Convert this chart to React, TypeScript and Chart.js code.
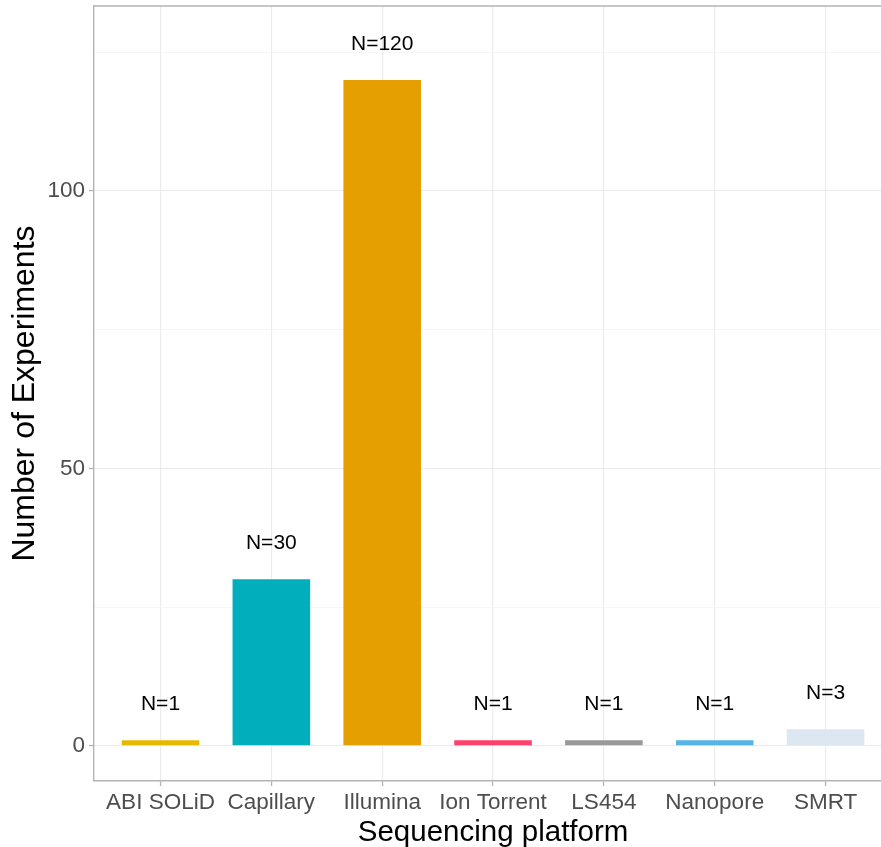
import React, { useEffect, useRef } from "react";
import { Chart, registerables } from "chart.js";

Chart.register(...registerables);

const categories = ["ABI SOLiD", "Capillary", "Illumina", "Ion Torrent", "LS454", "Nanopore", "SMRT"];
const experimentCounts = [1, 30, 120, 1, 1, 1, 3];
const barColors = ["#E7B800", "#00AFBB", "#E69F00", "#FF406A", "#999999", "#56B4E9", "#DDE7F1"];
const yTickValues = [0, 25, 50, 75, 100, 125];
const yLabelledTicks = [0, 50, 100];
const xTitle = "Sequencing platform";
const yTitle = "Number of Experiments";

const FONT = "'Liberation Sans', Arial, Helvetica, sans-serif";
const BORDER = "#B3B3B3";

const labelPlugin = {
  id: "nLabels",
  afterDatasetsDraw(chart: any) {
    const meta = chart.getDatasetMeta(0);
    const yScale = chart.scales.y;
    const ctx = chart.ctx;
    ctx.save();
    ctx.font = `21px ${FONT}`;
    ctx.fillStyle = "#000000";
    ctx.textAlign = "center";
    ctx.textBaseline = "alphabetic";
    meta.data.forEach((bar: any, i: number) => {
      const v = experimentCounts[i];
      const y = yScale.getPixelForValue(v + 5.4);
      ctx.fillText(`N=${v}`, bar.x, y);
    });
    ctx.restore();
  },
};

const frameAndTitlePlugin = {
  id: "frameAndTitle",
  afterDraw(chart: any) {
    const { ctx, chartArea } = chart;
    const xScale = chart.scales.x;
    ctx.save();
    ctx.strokeStyle = BORDER;
    ctx.lineWidth = 1.4;
    ctx.beginPath();
    ctx.moveTo(chartArea.left, chartArea.top);
    ctx.lineTo(chartArea.right, chartArea.top);
    ctx.stroke();
    // x-axis title centred on the full (ggplot) panel, which runs past the canvas edge
    const panelCentre = (xScale.getPixelForValue(-0.6) + xScale.getPixelForValue(6.6)) / 2;
    ctx.font = `29.5px ${FONT}`;
    ctx.fillStyle = "#000000";
    ctx.textAlign = "center";
    ctx.textBaseline = "alphabetic";
    ctx.fillText(xTitle, panelCentre, 841);
    ctx.restore();
  },
};

export default function App() {
  const canvasRef = useRef<HTMLCanvasElement | null>(null);

  useEffect(() => {
    if (!canvasRef.current) return;
    const chart = new Chart(canvasRef.current, {
      type: "bar",
      data: {
        datasets: [
          {
            data: experimentCounts.map((v, i) => ({ x: i, y: v })),
            backgroundColor: barColors,
            borderWidth: 0,
            barPercentage: 0.7,
            categoryPercentage: 1.0,
          },
        ],
      },
      options: {
        responsive: false,
        animation: false,
        layout: { padding: { top: 6, left: 0, right: 0, bottom: 0 } },
        plugins: {
          legend: { display: false },
          tooltip: { enabled: false },
        },
        scales: {
          x: {
            type: "linear",
            min: -0.6,
            max: 6.5,
            offset: false,
            afterBuildTicks: (scale: any) => {
              scale.ticks = categories.map((_, i) => ({ value: i }));
            },
            afterFit: (scale: any) => {
              scale.height = 66;
              scale.paddingLeft = 0;
              scale.paddingRight = 0;
            },
            grid: {
              offset: false,
              color: "#EBEBEB",
              lineWidth: 1.1,
              tickLength: 5,
              tickColor: BORDER,
              tickWidth: 1.3,
            },
            border: { color: BORDER, width: 1.4 },
            ticks: {
              autoSkip: false,
              maxRotation: 0,
              minRotation: 0,
              padding: 3,
              color: "#4D4D4D",
              font: { family: FONT, size: 22.5 },
              callback: (value: any) => categories[Number(value)] ?? "",
            },
            title: { display: false, text: xTitle },
          },
          y: {
            type: "linear",
            min: -6.35,
            max: 133.35,
            afterBuildTicks: (scale: any) => {
              scale.ticks = yTickValues.map((v) => ({ value: v }));
            },
            afterFit: (scale: any) => {
              scale.width = 94;
              scale.paddingTop = 0;
              scale.paddingBottom = 0;
            },
            grid: {
              color: (ctx: any) =>
                yLabelledTicks.includes(ctx.tick?.value) ? "#EBEBEB" : "#F4F4F4",
              lineWidth: (ctx: any) => (yLabelledTicks.includes(ctx.tick?.value) ? 1.1 : 0.8),
              tickLength: 5,
              tickColor: (ctx: any) =>
                yLabelledTicks.includes(ctx.tick?.value) ? BORDER : "rgba(0,0,0,0)",
              tickWidth: 1.3,
            },
            border: { color: BORDER, width: 1.4 },
            ticks: {
              padding: 4,
              color: "#4D4D4D",
              font: { family: FONT, size: 22.5 },
              callback: (value: any) =>
                yLabelledTicks.includes(Number(value)) ? String(value) : "",
            },
            title: {
              display: true,
              text: yTitle,
              color: "#000000",
              font: { family: FONT, size: 32, lineHeight: 1.2 },
              padding: { top: 5.5, bottom: 0 },
            },
          },
        },
      },
      plugins: [labelPlugin, frameAndTitlePlugin],
    } as any);
    return () => chart.destroy();
  }, []);

  return (
    <div style={{ position: "absolute", left: 0, top: 0, width: 881, height: 847, background: "#FFFFFF" }}>
      <canvas ref={canvasRef} width={881} height={847} style={{ display: "block", width: 881, height: 847 }} />
    </div>
  );
}
